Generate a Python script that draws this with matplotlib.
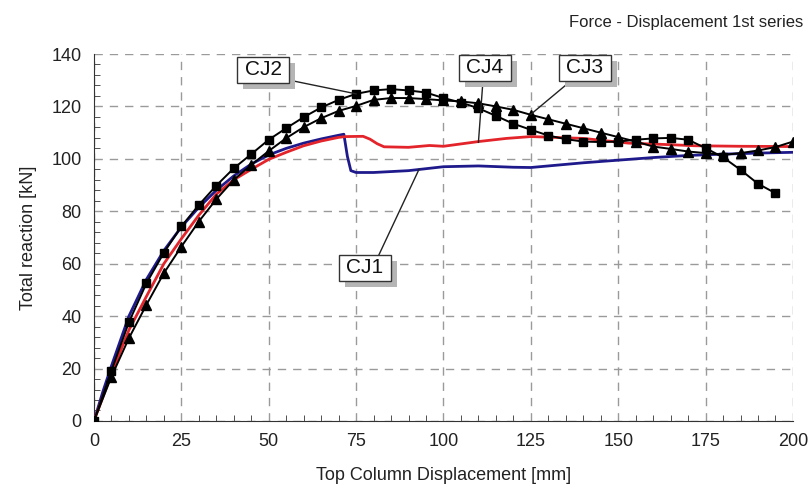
#!/usr/bin/env python3
import numpy as np
import matplotlib
matplotlib.use("Agg")
import matplotlib.pyplot as plt
from matplotlib.patches import Rectangle
from matplotlib.transforms import ScaledTranslation

plt.rcParams['font.family'] = ['Liberation Sans', 'DejaVu Sans']

# ---------------- data ----------------
# CJ2 (squares) and CJ3 (triangles): markers every 5 mm
X_MARK = [0, 5, 10, 15, 20, 25, 30, 35, 40, 45, 50, 55, 60, 65, 70, 75, 80, 85, 90, 95,
          100, 105, 110, 115, 120, 125, 130, 135, 140, 145, 150, 155, 160, 165, 170, 175,
          180, 185, 190, 195, 200]
CJ2_Y = [0, 19.2, 37.7, 52.5, 64.2, 74.2, 82.4, 89.8, 96.4, 101.8, 107.3, 111.7, 115.9,
         119.6, 122.5, 124.8, 126.1, 126.6, 126.1, 125.3, 123.2, 121.5, 119.3, 116.4, 113.4,
         111.1, 108.9, 107.5, 106.6, 106.4, 106.6, 107.3, 107.8, 108.0, 107.3, 104.1, 100.6,
         95.8, 90.5, 86.9]
CJ3_Y = [0, 16.9, 31.6, 44.3, 56.4, 66.5, 76.1, 84.6, 92.0, 97.7, 103.0, 107.9, 112.1,
         115.5, 118.3, 120.2, 122.5, 123.2, 123.2, 122.8, 122.3, 121.9, 121.2, 120.0, 118.7,
         116.8, 115.1, 113.4, 111.7, 110.0, 108.3, 106.6, 104.7, 103.8, 102.8, 102.2, 101.5,
         102.2, 103.2, 104.5, 106.6]

# CJ1 (blue line)
CJ1_X = [0, 2.5, 5, 10, 15, 20, 25, 30, 35, 40, 45, 50, 55, 60, 65, 70, 71.5, 72.5, 73.5,
         75, 80, 90, 100, 110, 120, 125, 130, 140, 150, 160, 170, 180, 190, 200]
CJ1_Y = [0, 11, 21, 40, 54, 65, 74, 81.5, 88, 93.5, 98, 101.5, 104, 106, 107.6, 109, 109.4,
         101, 95.5, 94.8, 94.8, 95.5, 97, 97.3, 96.8, 96.7, 97.3, 98.5, 99.5, 100.5, 101.3,
         101.8, 102.2, 102.5]

# CJ4 (red line)
CJ4_X = [0, 2.5, 5, 10, 15, 20, 25, 30, 35, 40, 45, 50, 55, 60, 65, 70, 72, 77, 79, 81,
         83, 90, 96, 100, 110, 118, 125, 140, 153, 165, 172, 185, 200]
CJ4_Y = [0, 9, 18, 34.7, 47.5, 60, 69.5, 78.5, 86.5, 92, 96, 99.8, 102.5, 105, 106.8, 108.2,
         108.5, 108.6, 107.5, 105.8, 104.6, 104.4, 105.1, 104.8, 106.6, 107.8, 108.5, 107.8,
         106.0, 105.4, 105.0, 104.8, 104.7]

LABELS = ["CJ1", "CJ2", "CJ3", "CJ4"]
# label box centre, leader line start and the point it goes to
LABEL_BOX = {"CJ2": (48.4, 134.0), "CJ4": (111.9, 134.7), "CJ3": (140.5, 134.7), "CJ1": (77.5, 58.4)}
LINE_START = {"CJ2": (56.0, 130.0), "CJ4": (111.3, 129.8), "CJ3": (136.5, 129.8), "CJ1": (81.5, 63.3)}
LABEL_TIP = {"CJ2": (75.0, 124.8), "CJ4": (110.0, 106.3), "CJ3": (125.0, 117.0), "CJ1": (93.0, 96.0)}
# ------------------------------------------------------------

BOX_W = 0.52   # inches
BOX_H = 0.26
SHADOW = 0.06


def add_label(ax, name):
    bx, by = LABEL_BOX[name]
    sx, sy = LINE_START[name]
    tx, ty = LABEL_TIP[name]
    ax.plot([sx, tx], [sy, ty], color="#222222", lw=1.0, zorder=6)

    fig = ax.figure
    trans = fig.dpi_scale_trans + ScaledTranslation(bx, by, ax.transData)
    ax.add_patch(Rectangle((-BOX_W / 2 + SHADOW, -BOX_H / 2 - SHADOW), BOX_W, BOX_H,
                           transform=trans, fc="#b5b5b5", ec="none", zorder=7))
    ax.add_patch(Rectangle((-BOX_W / 2, -BOX_H / 2), BOX_W, BOX_H,
                           transform=trans, fc="white", ec="#333333", lw=1.0, zorder=8))
    ax.text(bx, by, name, fontsize=15, color="#111111", ha="center", va="center", zorder=9)


def main():
    fig = plt.figure(figsize=(8.08, 4.91), dpi=100)
    ax = fig.add_axes([0.1163, 0.1426, 0.8651, 0.7474])

    ax.plot(CJ1_X, CJ1_Y, color="#1f1a8c", lw=2.0, zorder=3)
    ax.plot(CJ4_X, CJ4_Y, color="#e3242b", lw=2.0, zorder=4)
    ax.plot(X_MARK[:len(CJ2_Y)], CJ2_Y, color="black", lw=1.4, marker="s", ms=6, zorder=5)
    ax.plot(X_MARK[:len(CJ3_Y)], CJ3_Y, color="black", lw=1.4, marker="^", ms=7, zorder=5)

    ax.set_xlim(0, 200)
    ax.set_ylim(0, 140)
    ax.set_xticks(np.arange(0, 201, 25))
    ax.set_yticks(np.arange(0, 141, 20))
    ax.set_xticks(np.arange(0, 201, 5), minor=True)
    ax.set_yticks(np.arange(0, 141, 4), minor=True)
    ax.tick_params(which="both", direction="in", colors="#333333", labelcolor="#222222")
    ax.tick_params(which="major", length=0, labelsize=13, pad=9)
    ax.tick_params(which="minor", length=4)

    ax.grid(True, which="major", linestyle=(0, (6, 5)), color="#9a9a9a", lw=1.0)
    ax.spines["top"].set_visible(False)
    ax.spines["right"].set_visible(False)
    ax.spines["left"].set_color("#333333")
    ax.spines["bottom"].set_color("#333333")
    ax.set_axisbelow(True)

    ax.set_xlabel("Top Column Displacement [mm]", fontsize=13, color="#222222", labelpad=12)
    ax.set_ylabel("Total reaction [kN]", fontsize=13, color="#222222", labelpad=10)
    fig.text(0.994, 0.955, "Force - Displacement 1st series", ha="right", va="center",
             fontsize=12, color="#222222")

    for name in LABELS:
        add_label(ax, name)

    fig.savefig("out.png", dpi=100)
    plt.close(fig)


if __name__ == "__main__":
    main()
